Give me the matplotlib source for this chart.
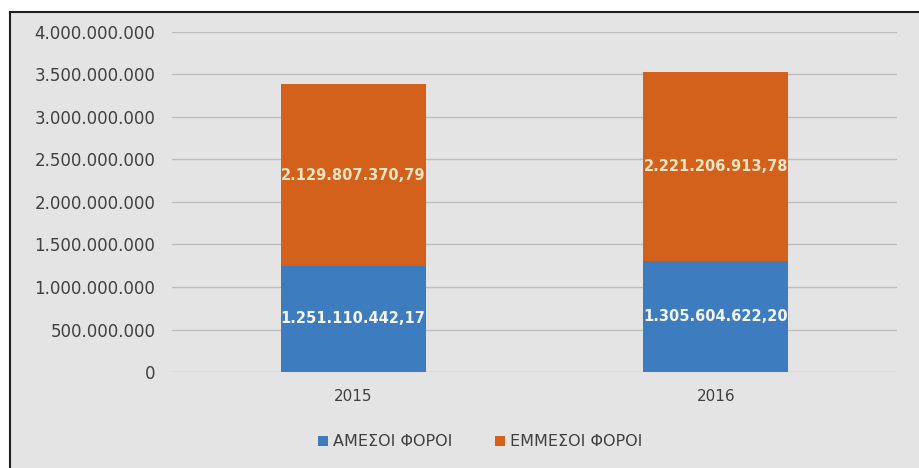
import matplotlib.pyplot as plt
from matplotlib.patches import Rectangle
from matplotlib.lines import Line2D

plt.rcParams['font.family'] = ['DejaVu Sans']

years = ['2015', '2016']
amesoi = [1251110442.17, 1305604622.20]
emmesoi = [2129807370.79, 2221206913.78]
yticks = [0, 500000000, 1000000000, 1500000000, 2000000000,
          2500000000, 3000000000, 3500000000, 4000000000]


def gr_fmt(v, dec=0):
    s = f'{v:,.{dec}f}'
    return s.replace(',', 'X').replace('.', ',').replace('X', '.')


blue = '#3d7dbf'
orange = '#d3611b'
bg = '#e4e4e4'

fig = plt.figure(figsize=(9.2, 4.68), dpi=100, facecolor='white')
# grey panel with a dark edge on the left and top
x0, y0 = 10 / 920, 1 - 12 / 468
fig.add_artist(Rectangle((x0, 0), 1 - x0, y0, transform=fig.transFigure,
                         facecolor=bg, edgecolor='none', zorder=0))
fig.add_artist(Line2D([x0, x0], [0, y0], transform=fig.transFigure,
                      color='#202020', lw=1.5))
fig.add_artist(Line2D([x0, 1.01], [y0, y0], transform=fig.transFigure,
                      color='#202020', lw=1.5))

ax = fig.add_axes([172 / 920, 0.205, 725 / 920, 0.727])
ax.set_facecolor(bg)

x = range(len(years))
ax.bar(x, amesoi, width=0.4, color=blue, label='ΑΜΕΣΟΙ ΦΟΡΟΙ', zorder=3)
ax.bar(x, emmesoi, width=0.4, bottom=amesoi, color=orange,
       label='ΕΜΜΕΣΟΙ ΦΟΡΟΙ', zorder=3)

for i in x:
    ax.text(i, amesoi[i] / 2, gr_fmt(amesoi[i], 2), ha='center', va='center',
            color='#f4f4f4', fontsize=10.5, fontweight='bold', zorder=4)
    ax.text(i, amesoi[i] + emmesoi[i] / 2, gr_fmt(emmesoi[i], 2),
            ha='center', va='center', color='#f6e4c4', fontsize=10.5,
            fontweight='bold', zorder=4)

ax.set_xlim(-0.5, 1.5)
ax.set_ylim(0, 4000000000)
ax.set_yticks(yticks)
ax.set_yticklabels([gr_fmt(v) for v in yticks])
ax.set_xticks(list(x))
ax.set_xticklabels(years)
ax.grid(axis='y', color='#bdbdbd', lw=1, zorder=0)
for s in ax.spines.values():
    s.set_visible(False)
ax.tick_params(axis='both', length=0, colors='#404040')
ax.tick_params(axis='y', pad=12, labelsize=12)
ax.tick_params(axis='x', pad=12, labelsize=11)

ax.legend(loc='center', bbox_to_anchor=(0.425, -0.205), ncol=2,
          frameon=False, fontsize=11.5, handlelength=0.6, handleheight=0.6,
          handletextpad=0.3, columnspacing=2.7, labelcolor='#404040')

fig.savefig('out.png', dpi=100, facecolor=fig.get_facecolor())
